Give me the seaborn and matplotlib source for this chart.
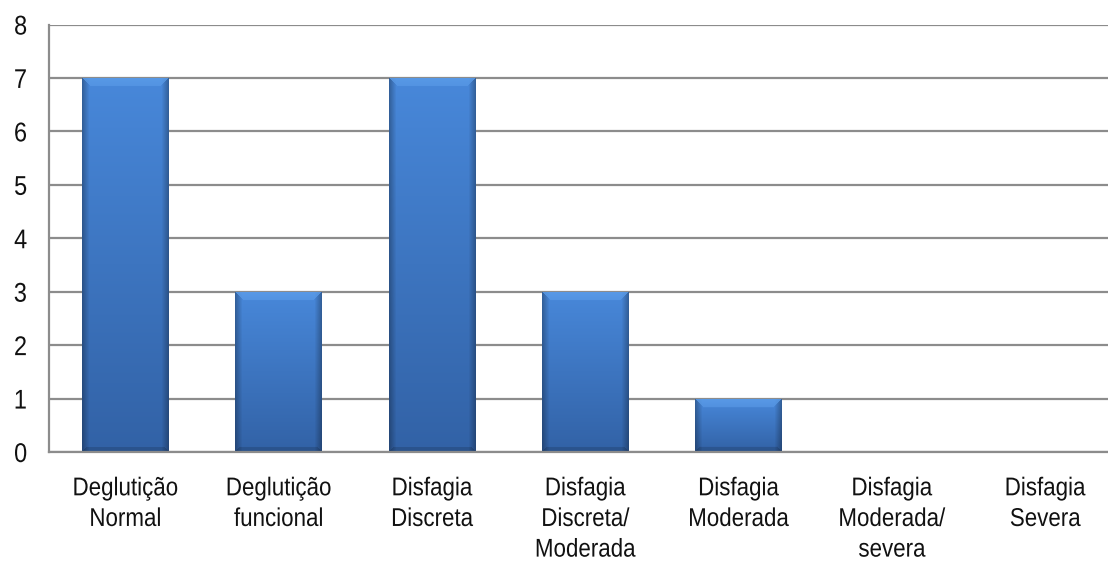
import numpy as np
import pandas as pd
import matplotlib
matplotlib.use("Agg")
import matplotlib.pyplot as plt
import matplotlib.colors as mcolors
from matplotlib.transforms import Affine2D
from matplotlib.patheffects import AbstractPathEffect
import seaborn as sns

categories = ["Deglutição\nNormal", "Deglutição\nfuncional", "Disfagia\nDiscreta",
              "Disfagia\nDiscreta/\nModerada", "Disfagia\nModerada",
              "Disfagia\nModerada/\nsevera", "Disfagia\nSevera"]
values = [7, 3, 7, 3, 1, 0, 0]
yticks = [0, 1, 2, 3, 4, 5, 6, 7, 8]

sns.set_style("white")
plt.rcParams['font.family'] = ['Liberation Sans', 'DejaVu Sans']


class Squeeze(AbstractPathEffect):
    """Narrow the glyphs horizontally (imitates a condensed typeface)."""
    def __init__(self, sx=0.88):
        super().__init__()
        self.sx = sx

    def draw_path(self, renderer, gc, tpath, affine, rgbFace=None):
        v = tpath.vertices
        cx = (v[:, 0].min() + v[:, 0].max()) / 2 if len(v) else 0.0
        t = Affine2D().translate(-cx, 0).scale(self.sx, 1).translate(cx, 0) + affine
        renderer.draw_path(gc, tpath, t, rgbFace)


W, H = 1108, 563
fig = plt.figure(figsize=(W / 100, H / 100), dpi=100)
left_px, right_px, top_px, bot_px = 49, 1122, 24.5, 452
ax = fig.add_axes([left_px / W, 1 - bot_px / H, (right_px - left_px) / W, (bot_px - top_px) / H])

df = pd.DataFrame({"cat": categories, "val": values})
sns.barplot(data=df, x="cat", y="val", ax=ax, color="#3f7fcf", width=0.567,
            saturation=1, edgecolor="none", linewidth=0)

ax.set_ylim(0, 8)
ax.set_xlim(-0.5, len(categories) - 0.5)
ax.set_xlabel("")
ax.set_ylabel("")
ax.grid(axis="y", color="#8c8c8c", linewidth=1.6)
ax.set_axisbelow(True)
for s in ["top", "right"]:
    ax.spines[s].set_visible(False)
for s in ["left", "bottom"]:
    ax.spines[s].set_color("#8c8c8c")
    ax.spines[s].set_linewidth(1.6)
    ax.spines[s].set_zorder(3)
ax.tick_params(axis="both", length=0, colors="#111111")
ax.tick_params(axis="x", pad=17.5)
ax.tick_params(axis="y", pad=15)
ax.set_xticks(range(len(categories)))
ax.set_xticklabels(categories, linespacing=1.35, fontsize=18.5,
                   path_effects=[Squeeze(0.87)])
ax.set_yticks(yticks)
ax.set_yticklabels([str(v) for v in yticks], fontsize=19.5,
                   path_effects=[Squeeze(0.87)])

# gradient / bevel fill for each bar
top_c = np.array(mcolors.to_rgb("#4888da"))
bot_c = np.array(mcolors.to_rgb("#3262a6"))
fig.canvas.draw()
for p in list(ax.patches):
    h_data = p.get_height()
    if h_data <= 0:
        continue
    x0 = p.get_x(); w_data = p.get_width()
    bb = p.get_window_extent()
    wpx = max(int(round(bb.width)), 2)
    hpx = max(int(round(bb.height)), 2)
    ii = np.arange(hpx)[:, None] * np.ones((1, wpx))
    jj = np.ones((hpx, 1)) * np.arange(wpx)[None, :]
    t = ii / max(hpx - 1, 1)
    img = top_c[None, None, :] * (1 - t[..., None]) + bot_c[None, None, :] * t[..., None]
    d = np.minimum(jj, wpx - 1 - jj)
    edge = 7.0
    fac = np.where(d < edge, 0.72 + 0.28 * (d / edge), 1.0)
    img = img * fac[..., None]
    bevel = 9.0
    topband = (ii < bevel) & (ii <= d)
    light = np.array(mcolors.to_rgb("#5c9de9"))
    tb = (1 - ii / bevel)
    mix = np.where(topband, 0.55 + 0.45 * tb * 0.6, 0.0)
    img = img * (1 - mix[..., None]) + light[None, None, :] * mix[..., None]
    db = hpx - 1 - ii
    botband = (db < 5) & (db <= d)
    img = np.where(botband[..., None], img * 0.85, img)
    img = np.clip(img, 0, 1)
    im = ax.imshow(img, extent=(x0, x0 + w_data, 0, h_data), origin="upper",
                   aspect="auto", interpolation="bilinear", zorder=2.5)
    im.set_clip_path(p)

ax.set_xlim(-0.5, len(categories) - 0.5)
ax.set_ylim(0, 8)
fig.savefig("out.png", dpi=100)
